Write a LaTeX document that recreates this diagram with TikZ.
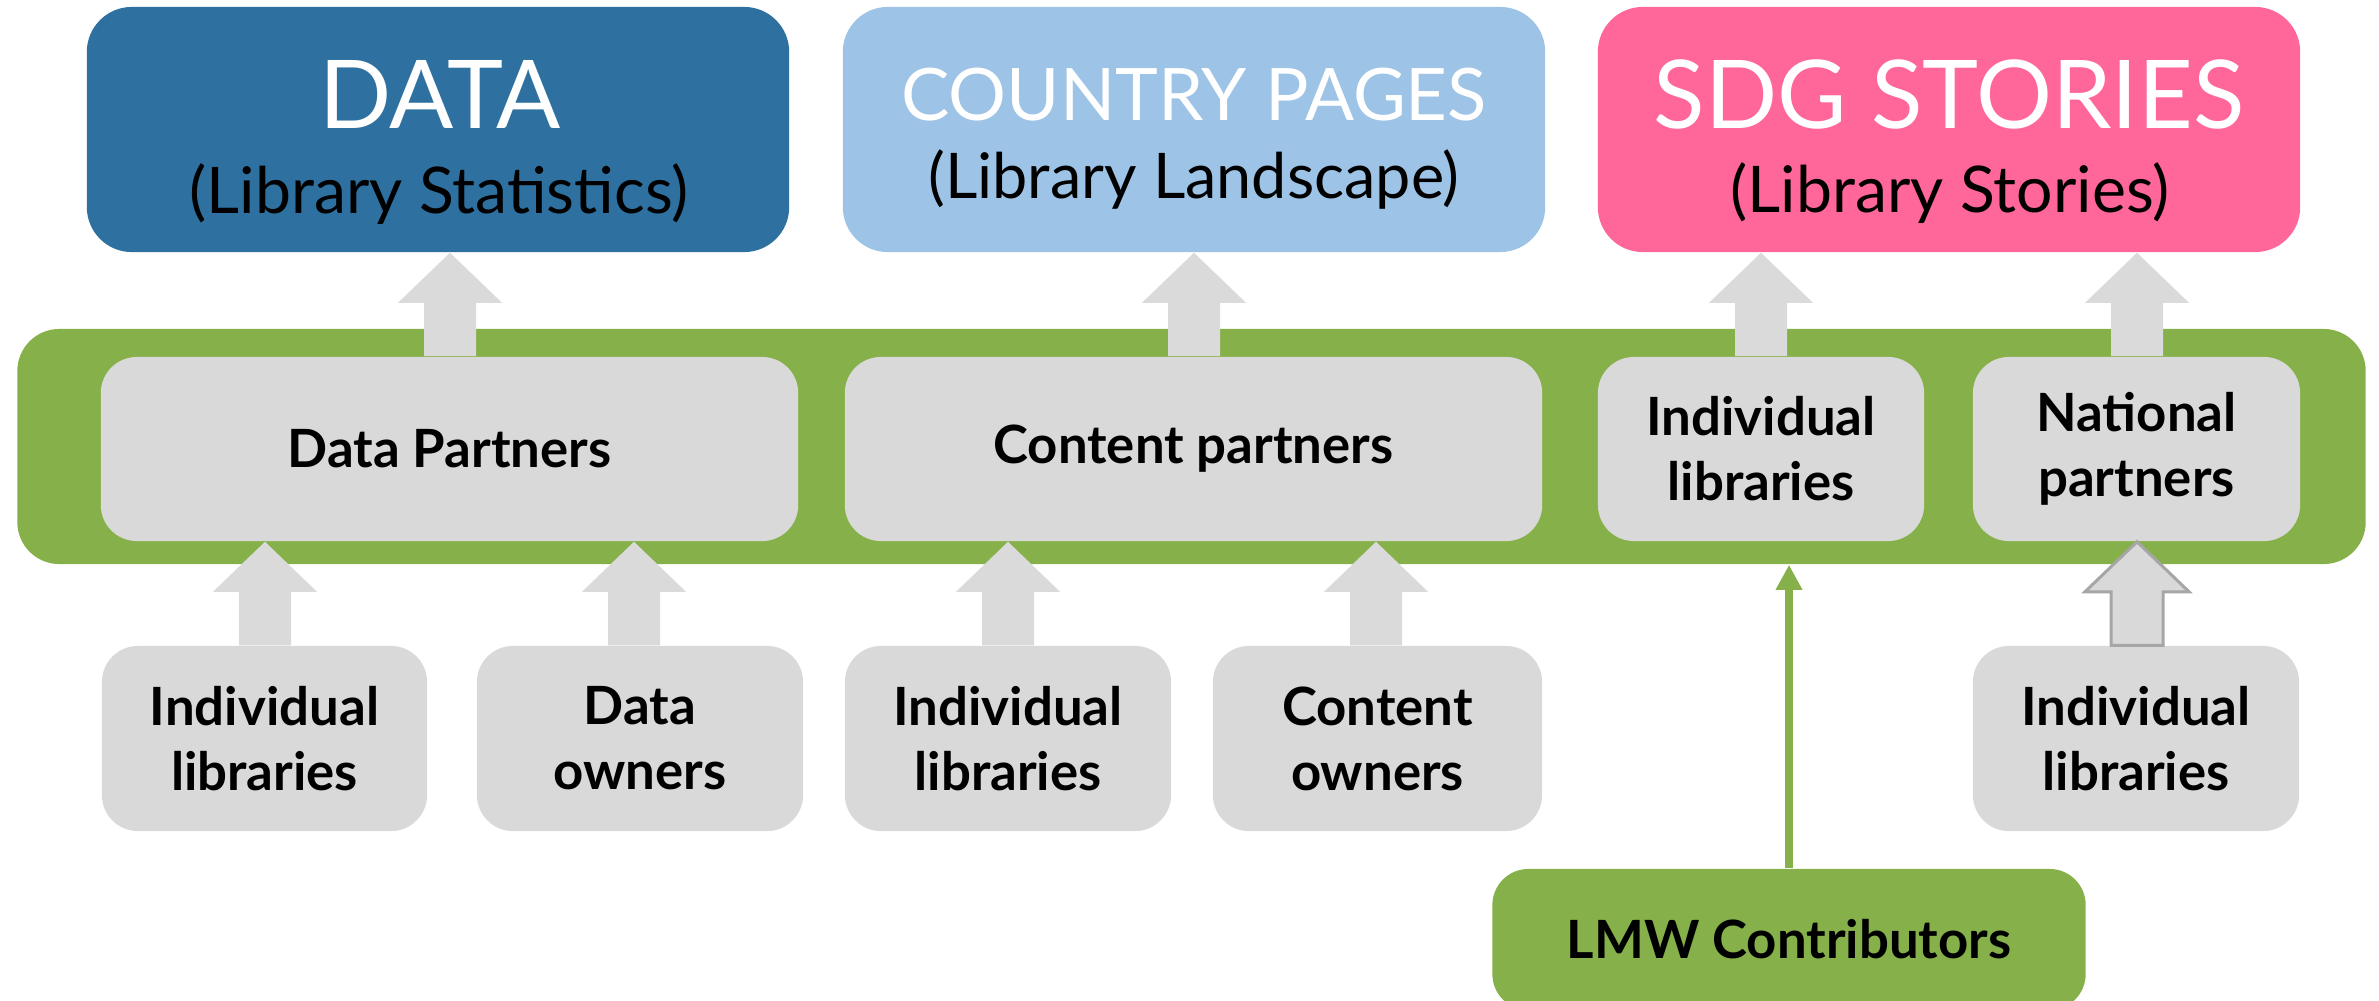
\documentclass[tikz,border=0pt]{standalone}
\usepackage{fontspec}
\setmainfont{Lato}
\usetikzlibrary{arrows.meta,calc}
\definecolor{datablue}{HTML}{2E71A0}
\definecolor{countryblue}{HTML}{9DC3E6}
\definecolor{sdgpink}{HTML}{FF6699}
\definecolor{lmwgreen}{HTML}{86B049}
\definecolor{boxgray}{HTML}{D9D9D9}
\definecolor{arrowgray}{HTML}{DADADA}
\definecolor{edgegray}{HTML}{A6A6A6}
\newcommand\blockup[4][]{%
  \coordinate (ba-t) at (#4,0 |- #3.south);
  \coordinate (ba-b) at (#4,0 |- #2.north);
  \path[blockarrow,#1] ($(ba-b)+(-26,0)$) -- ($(ba-t)+(-26,50)$) -- ($(ba-t)+(-52,50)$) -- (ba-t)
     -- ($(ba-t)+(52,50)$) -- ($(ba-t)+(26,50)$) -- ($(ba-b)+(26,0)$) -- cycle;
}
\begin{document}
\begin{tikzpicture}[x=0.01cm,y=-0.01cm,
  topbox/.style={rounded corners=0.45cm, minimum width=7.02cm, minimum height=2.45cm, inner sep=0pt},
  bandbox/.style={fill=lmwgreen, rounded corners=0.42cm, minimum width=23.47cm, minimum height=2.35cm, inner sep=0pt},
  graybox/.style={fill=boxgray, rounded corners=0.36cm, inner sep=0pt, align=center,
     minimum height=1.84cm, font=\fontsize{15}{18.5}\selectfont\bfseries},
  greenbox/.style={fill=lmwgreen, rounded corners=0.36cm, inner sep=0pt, align=center,
     font=\fontsize{15}{18.5}\selectfont\bfseries},
  titlefont/.style={font=\fontsize{27}{30}\selectfont, text=white, inner sep=0pt},
  subfont/.style={font=\fontsize{18.3}{22}\selectfont, text=black, inner sep=0pt},
  blockarrow/.style={fill=arrowgray},
  outlinedarrow/.style={fill=boxgray, draw=edgegray, line width=0.03cm},
  greenline/.style={draw=lmwgreen, line width=0.075cm, -{Triangle[width=0.25cm,length=0.25cm]}}
]
\useasboundingbox (0,0) rectangle (2379,1000);

% top boxes
\node[topbox, fill=datablue] (data) at (438,129.5) {};
\node[topbox, fill=countryblue] (country) at (1194,129.5) {};
\node[topbox, fill=sdgpink] (sdg) at (1949,129.5) {};
\node[titlefont, anchor=base] (data-t) at (440,128) {DATA};
\node[subfont, anchor=base] (data-s) at (439,213) {(Library Statistics)};
\node[titlefont, anchor=base, font=\fontsize{20.6}{24}\selectfont] (country-t) at (1194,120) {COUNTRY PAGES};
\node[subfont, anchor=base, font=\fontsize{17.9}{22}\selectfont] (country-s) at (1194,198) {(Library Landscape)};
\node[titlefont, anchor=base] (sdg-t) at (1949,128) {SDG STORIES};
\node[subfont, anchor=base] (sdg-s) at (1950,212) {(Library Stories)};

% green band
\node[bandbox] (band) at (1191.5,446.5) {};

% middle row
\node[graybox, minimum width=6.97cm] (dp) at (449.5,449) {Data Partners};
\node[graybox, minimum width=6.97cm] (cp) at (1193.5,449) {Content partners};
\node[graybox, minimum width=3.26cm] (il) at (1761,449) {Individual\\libraries};
\node[graybox, minimum width=3.27cm] (np) at (2136.5,449) {National\\partners};

% bottom row
\node[graybox, minimum width=3.25cm, minimum height=1.85cm] (b1) at (264.5,738.5) {Individual\\libraries};
\node[graybox, minimum width=3.26cm, minimum height=1.85cm] (b2) at (640,738.5) {Data\\owners};
\node[graybox, minimum width=3.26cm, minimum height=1.85cm] (b3) at (1008,738.5) {Individual\\libraries};
\node[graybox, minimum width=3.29cm, minimum height=1.85cm] (b4) at (1377.5,738.5) {Content\\owners};
\node[graybox, minimum width=3.26cm, minimum height=1.85cm] (b5) at (2136,738.5) {Individual\\libraries};

% LMW contributors
\node[greenbox, minimum width=5.93cm, minimum height=1.41cm] (lmw) at (1789,939.5) {LMW Contributors};

% block arrows
\blockup{dp}{data}{450}
\blockup{cp}{country}{1194}
\blockup{il}{sdg}{1761}
\blockup{np}{sdg}{2137}
\blockup{b1}{dp}{265}
\blockup{b2}{dp}{634}
\blockup{b3}{cp}{1008}
\blockup{b4}{cp}{1376}
\blockup[outlinedarrow]{b5}{np}{2137}

% green connector
\coordinate (g1) at (1789,0 |- lmw.north);
\coordinate (g2) at (1789,0 |- band.south);
\draw[greenline] (g1) -- (g2);
\end{tikzpicture}
\end{document}
